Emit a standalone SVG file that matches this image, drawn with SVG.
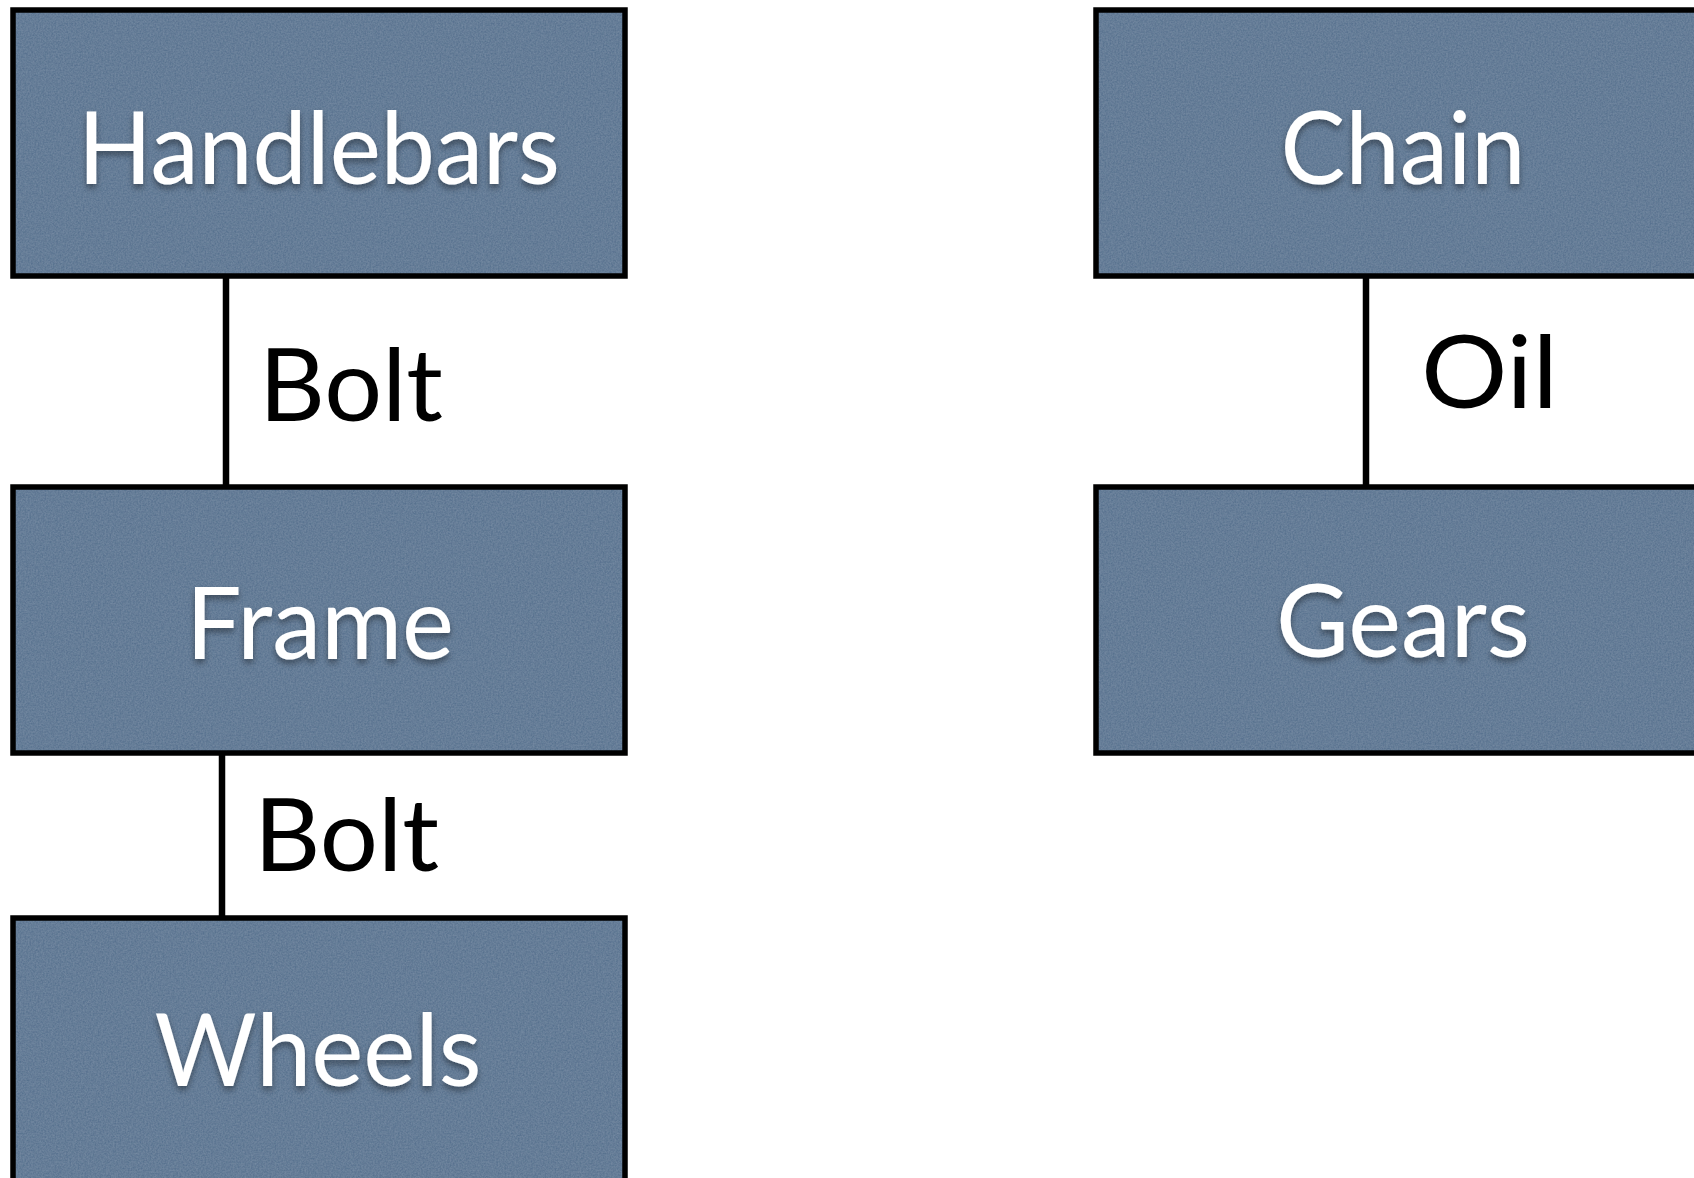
<svg xmlns="http://www.w3.org/2000/svg" width="1694" height="1178" viewBox="0 0 1694 1178">
  <style>
    .box { fill: none; stroke: #000; stroke-width: 5.5; }
    .grain { fill: #58728f; stroke: none; filter: url(#paper); }
    .name { font-family: Lato, "Open Sans", sans-serif; font-size: 100px; fill: #ffffff; text-anchor: middle; filter: url(#drop); }
    .link { stroke: #000; stroke-width: 6.5; fill: none; }
    .tag { font-family: Lato, "Open Sans", sans-serif; font-size: 100px; fill: #000; }
  </style>
  <defs>
    <!-- slight paper texture on the node fill -->
    <filter id="paper" x="0" y="0" width="100%" height="100%">
      <feTurbulence type="fractalNoise" baseFrequency="0.6" numOctaves="3" seed="4" result="n"/>
      <feColorMatrix in="n" type="matrix" values="0 0 0 0 0.45  0 0 0 0 0.55  0 0 0 0 0.66  0 0 0 0.3 -0.05" result="tint"/>
      <feComposite in="tint" in2="SourceGraphic" operator="in" result="t"/>
      <feMerge><feMergeNode in="SourceGraphic"/><feMergeNode in="t"/></feMerge>
    </filter>
    <!-- soft shadow under white node names -->
    <filter id="drop" x="-10%" y="-20%" width="120%" height="150%">
      <feGaussianBlur in="SourceAlpha" stdDeviation="3"/>
      <feOffset dx="0" dy="4" result="b"/>
      <feFlood flood-color="#000" flood-opacity="0.4"/>
      <feComposite in2="b" operator="in" result="s"/>
      <feMerge><feMergeNode in="s"/><feMergeNode in="SourceGraphic"/></feMerge>
    </filter>
  </defs>
  <rect width="1694" height="1178" fill="#ffffff"/>

  <g id="connectors">
    <line class="link" x1="226" y1="276" x2="226" y2="487"/>
    <line class="link" x1="222" y1="753" x2="222" y2="918"/>
    <line class="link" x1="1366" y1="276" x2="1366" y2="487"/>
    <text class="tag" x="259" y="421" textLength="184" lengthAdjust="spacingAndGlyphs">Bolt</text>
    <text class="tag" x="254" y="871" textLength="185" lengthAdjust="spacingAndGlyphs">Bolt</text>
    <text class="tag" x="1421" y="408" textLength="137" lengthAdjust="spacingAndGlyphs">Oil</text>
  </g>

  <g id="handlebars">
    <rect class="grain" x="13" y="10" width="612" height="266"/>
    <rect class="box" x="13" y="10" width="612" height="266"/>
    <text class="name" x="319" y="184" textLength="482" lengthAdjust="spacingAndGlyphs">Handlebars</text>
  </g>

  <g id="frame">
    <rect class="grain" x="13" y="487" width="612" height="266"/>
    <rect class="box" x="13" y="487" width="612" height="266"/>
    <text class="name" x="320" y="659" textLength="268" lengthAdjust="spacingAndGlyphs">Frame</text>
  </g>

  <g id="wheels">
    <rect class="grain" x="13" y="918" width="612" height="266"/>
    <rect class="box" x="13" y="918" width="612" height="266"/>
    <text class="name" x="318" y="1086" textLength="327" lengthAdjust="spacingAndGlyphs">Wheels</text>
  </g>

  <g id="chain">
    <rect class="grain" x="1096" y="10" width="612" height="266"/>
    <rect class="box" x="1096" y="10" width="612" height="266"/>
    <text class="name" x="1403" y="184" textLength="245" lengthAdjust="spacingAndGlyphs">Chain</text>
  </g>

  <g id="gears">
    <rect class="grain" x="1096" y="487" width="612" height="266"/>
    <rect class="box" x="1096" y="487" width="612" height="266"/>
    <text class="name" x="1403" y="657" textLength="254" lengthAdjust="spacingAndGlyphs">Gears</text>
  </g>
</svg>
